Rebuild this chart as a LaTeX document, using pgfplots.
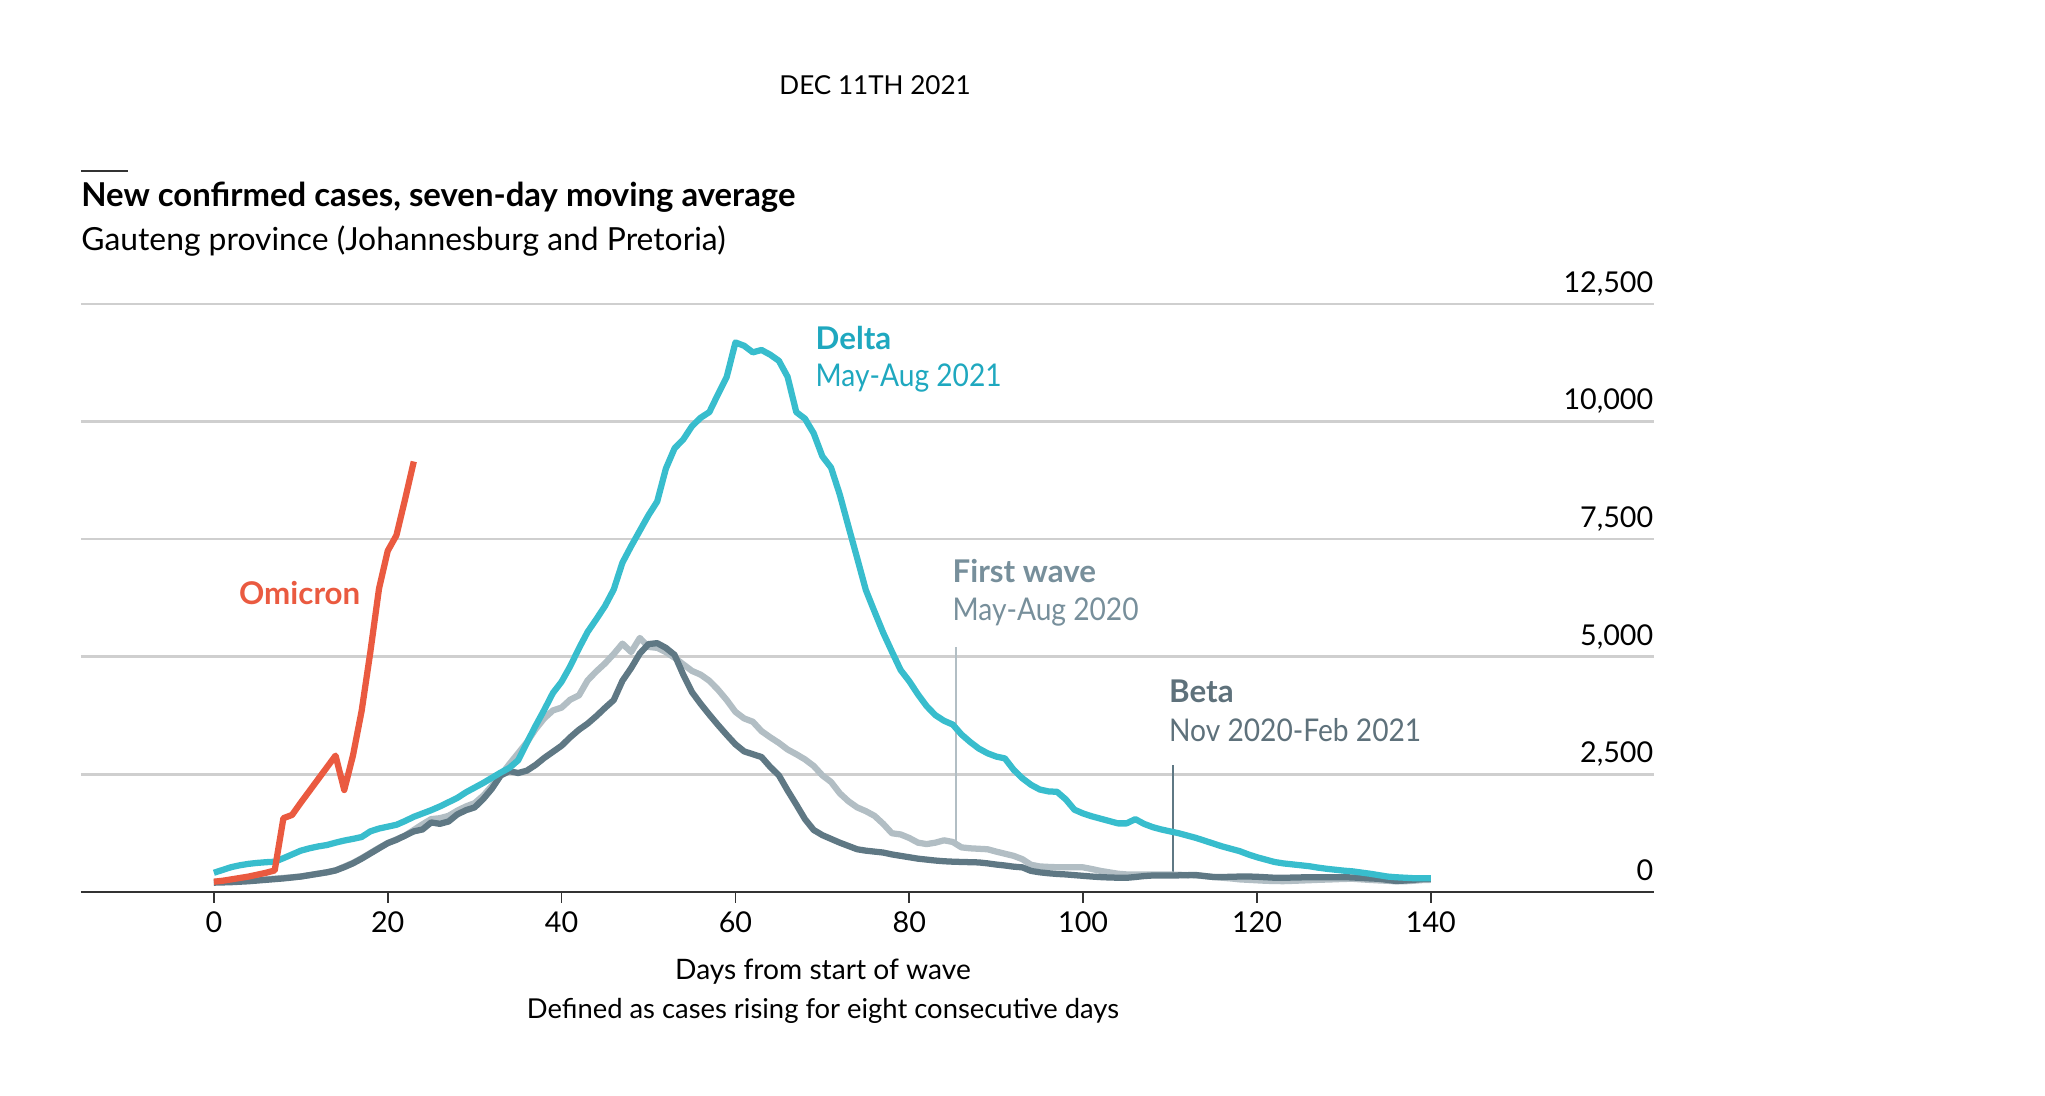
\documentclass[border=0pt]{standalone}
\usepackage{fontspec}
\setmainfont{Lato}
\newfontfamily\cond[FakeStretch=0.9]{Lato}
\usepackage{pgfplots}
\pgfplotsset{compat=1.18}
\usepackage{pgfplotstable}
\definecolor{delta}{HTML}{38BDCD}
\definecolor{deltatxt}{HTML}{1FA8BF}
\definecolor{omi}{HTML}{EA5A40}
\definecolor{first}{HTML}{B2BEC4}
\definecolor{firsttxt}{HTML}{778F9B}
\definecolor{beta}{HTML}{5F7884}
\definecolor{betatxt}{HTML}{5E717B}
\definecolor{gridc}{HTML}{CFCFCF}

\pgfplotstableread{
d v
0 220
1 240
2 270
3 300
4 330
5 370
6 410
7 460
8 1570
9 1640
10 1900
11 2150
12 2400
13 2650
14 2900
15 2170
16 2900
17 3850
18 5100
19 6450
20 7250
21 7580
22 8350
23 9150
}\omicron

\pgfplotstableread{
d v
0 410
1 470
2 530
3 570
4 600
5 620
6 635
7 645
8 720
9 800
10 880
11 930
12 970
13 1000
14 1050
15 1095
16 1130
17 1170
18 1290
19 1350
20 1390
21 1430
22 1510
23 1600
24 1670
25 1740
26 1820
27 1910
28 2000
29 2120
30 2220
31 2320
32 2430
33 2540
34 2640
35 2800
36 3170
37 3530
38 3870
39 4230
40 4470
41 4800
42 5180
43 5530
44 5800
45 6080
46 6430
47 7000
48 7350
49 7680
50 8010
51 8300
52 9000
53 9430
54 9620
55 9900
56 10080
57 10200
58 10580
59 10950
60 11680
61 11610
62 11470
63 11520
64 11420
65 11290
66 10950
67 10200
68 10060
69 9750
70 9260
71 9020
72 8450
73 7770
74 7100
75 6420
76 5960
77 5510
78 5110
79 4720
80 4480
81 4200
82 3950
83 3760
84 3640
85 3560
86 3350
87 3190
88 3050
89 2950
90 2880
91 2840
92 2600
93 2420
94 2280
95 2180
96 2140
97 2130
98 1970
99 1750
100 1670
101 1610
102 1560
103 1510
104 1460
105 1460
106 1550
107 1450
108 1380
109 1330
110 1290
111 1250
112 1200
113 1150
114 1090
115 1030
116 970
117 920
118 870
119 800
120 740
121 690
122 640
123 610
124 590
125 570
126 550
127 520
128 495
129 475
130 455
131 440
132 415
133 390
134 360
135 330
136 315
137 305
138 295
139 295
140 295
}\delta

\pgfplotstableread{
d v
0 220
1 225
2 230
3 240
4 250
5 260
6 270
7 285
8 300
9 315
10 330
11 360
12 390
13 420
14 460
15 540
16 620
17 720
18 830
19 940
20 1040
21 1120
22 1200
23 1320
24 1440
25 1550
26 1570
27 1620
28 1730
29 1820
30 1890
31 2050
32 2260
33 2480
34 2720
35 2950
36 3180
37 3460
38 3690
39 3860
40 3920
41 4090
42 4180
43 4500
44 4690
45 4860
46 5060
47 5280
48 5100
49 5400
50 5210
51 5190
52 5100
53 4980
54 4840
55 4700
56 4620
57 4490
58 4300
59 4080
60 3830
61 3690
62 3620
63 3420
64 3290
65 3170
66 3030
67 2930
68 2820
69 2680
70 2480
71 2340
72 2100
73 1930
74 1800
75 1720
76 1620
77 1450
78 1250
79 1225
80 1150
81 1050
82 1020
83 1050
84 1100
85 1065
86 950
87 930
88 920
89 910
90 860
91 815
92 770
93 700
94 580
95 545
96 535
97 528
98 528
99 528
100 525
101 490
102 450
103 420
104 390
105 375
106 373
107 373
108 373
109 373
110 372
111 368
112 360
113 352
114 340
115 320
116 305
117 290
118 270
119 260
120 250
121 240
122 235
123 232
124 238
125 245
126 252
127 260
128 266
129 272
130 280
131 282
132 270
133 258
134 248
135 240
136 228
137 230
138 240
139 255
140 260
}\firstwave

\pgfplotstableread{
d v
0 200
1 205
2 210
3 220
4 230
5 245
6 260
7 275
8 290
9 310
10 330
11 360
12 390
13 420
14 460
15 530
16 610
17 710
18 820
19 930
20 1040
21 1110
22 1200
23 1290
24 1330
25 1480
26 1450
27 1500
28 1650
29 1740
30 1800
31 1980
32 2200
33 2480
34 2570
35 2530
36 2580
37 2700
38 2850
39 2980
40 3110
41 3290
42 3450
43 3580
44 3740
45 3915
46 4080
47 4490
48 4760
49 5070
50 5270
51 5290
52 5190
53 5040
54 4620
55 4250
56 4000
57 3770
58 3550
59 3340
60 3140
61 2990
62 2930
63 2870
64 2660
65 2480
66 2160
67 1860
68 1550
69 1320
70 1210
71 1130
72 1050
73 980
74 910
75 880
76 860
77 840
78 800
79 770
80 740
81 710
82 690
83 670
84 655
85 646
86 640
87 635
88 630
89 610
90 585
91 565
92 540
93 525
94 450
95 420
96 400
97 385
98 375
99 360
100 345
101 330
102 318
103 310
104 305
105 303
106 320
107 340
108 352
109 352
110 352
111 355
112 360
113 362
114 340
115 320
116 320
117 325
118 330
119 331
120 325
121 315
122 305
123 303
124 308
125 312
126 316
127 317
128 317
129 317
130 317
131 310
132 300
133 290
134 282
135 260
136 235
137 245
138 260
139 275
140 282
}\betawave

\begin{document}
\begin{tikzpicture}
\useasboundingbox (0,0) rectangle (784pt,420pt);
\begin{axis}[
  at={(31pt,78pt)}, anchor=south west,
  scale only axis, width=603pt, height=225.5pt,
  xmin=-15.3, xmax=165.64, ymin=0, ymax=12500,
  clip=false,
  axis line style={draw=none},
  xtick={0,20,...,140}, xtick pos=lower,
  tick align=outside, major tick length=4pt,
  x tick style={color=black!80, line width=0.7pt},
  ytick={0,2500,5000,7500,10000,12500},
  y tick style={draw=none},
  yticklabel pos=right,
  ymajorgrids, grid style={color=gridc, line width=1pt},
  scaled y ticks=false,
  yticklabel style={anchor=base east, inner sep=0pt, xshift=-4pt, yshift=4.5pt, font=\fontsize{11}{13}\selectfont},
  xticklabel style={anchor=north, inner sep=0pt, yshift=-3.5pt, font=\fontsize{11}{13}\selectfont},
  /pgf/number format/.cd, 1000 sep={,}, assume math mode=true,
]
\draw[color=black!80, line width=1pt] (axis cs:-15.3,0) -- (axis cs:165.64,0);
\draw[color=first, line width=0.8pt] (axis cs:85.4,5200) -- (axis cs:85.4,1080);
\draw[color=beta, line width=0.8pt] (axis cs:110.3,2700) -- (axis cs:110.3,350);
\addplot[color=first, line width=2.4pt, line join=round] table[x=d,y=v] {\firstwave};
\addplot[color=beta, line width=2.4pt, line join=round] table[x=d,y=v] {\betawave};
\addplot[color=delta, line width=2.4pt, line join=round] table[x=d,y=v] {\delta};
\addplot[color=omi, line width=2.4pt, line join=round] table[x=d,y=v] {\omicron};
\end{axis}
\begin{scope}[shift={(0pt,420pt)}, x=0.5pt, y=-0.5pt]
\node[anchor=center, font=\fontsize{10}{12}\selectfont] at (671,65) {DEC 11TH 2021};
\draw[line width=1pt, color=black!80] (62,131) -- (98,131);
\node[anchor=west, inner sep=0pt, font=\bfseries\fontsize{12.6}{14}\selectfont] at (62,151) {New confirmed cases, seven-day moving average};
\node[anchor=west, inner sep=0pt, font=\fontsize{12.2}{14}\selectfont] at (62,185) {Gauteng province (Johannesburg and Pretoria)};
\node[anchor=west, inner sep=0pt, text=omi, font=\bfseries\fontsize{12}{14}\selectfont] at (183,455) {Omicron};
\node[anchor=west, inner sep=0pt, text=deltatxt, font=\bfseries\fontsize{12}{14}\selectfont] at (625,259) {Delta};
\node[anchor=west, inner sep=0pt, text=deltatxt, font=\cond\fontsize{12}{14}\selectfont] at (625,290) {May-Aug 2021};
\node[anchor=west, inner sep=0pt, text=firsttxt, font=\bfseries\fontsize{12}{14}\selectfont] at (730,438) {First wave};
\node[anchor=west, inner sep=0pt, text=firsttxt, font=\cond\fontsize{12}{14}\selectfont] at (730,469) {May-Aug 2020};
\node[anchor=west, inner sep=0pt, text=betatxt, font=\bfseries\fontsize{12}{14}\selectfont] at (896,530) {Beta};
\node[anchor=west, inner sep=0pt, text=betatxt, font=\cond\fontsize{12}{14}\selectfont] at (896,560) {Nov 2020-Feb 2021};
\node[anchor=center, inner sep=0pt, font=\fontsize{10.8}{14}\selectfont] at (631,745) {Days from start of wave};
\node[anchor=center, inner sep=0pt, font=\fontsize{10.5}{14}\selectfont] at (631,775) {Defined as cases rising for eight consecutive days};
\end{scope}
\end{tikzpicture}
\end{document}
